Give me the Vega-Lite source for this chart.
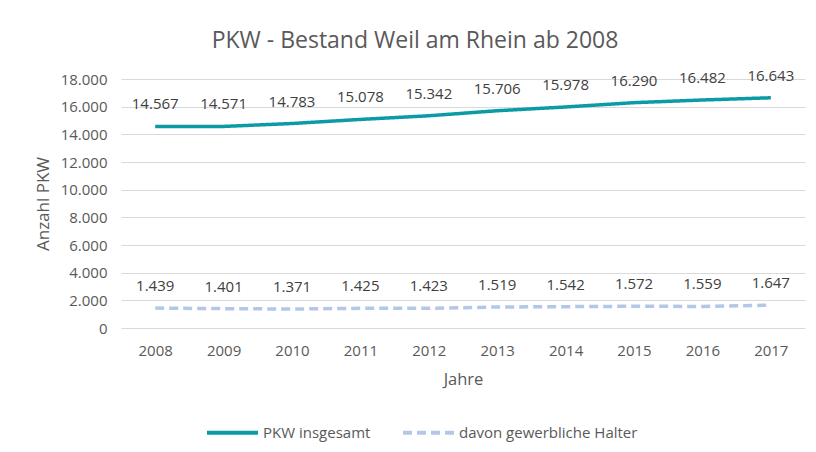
{
  "$schema": "https://vega.github.io/schema/vega-lite/v6.json",
  "autosize": {"type": "none"},
  "width": 684,
  "height": 249,
  "padding": {"left": 121, "top": 79, "right": 11, "bottom": 124},
  "background": "white",
  "config": {
    "locale": {"number": {"decimal": ",", "thousands": ".", "grouping": [3], "currency": ["", " €"]}},
    "font": "Open Sans",
    "view": {"stroke": null},
    "axis": {"labelColor": "#595959", "titleColor": "#595959", "labelFont": "Open Sans", "titleFont": "Open Sans", "titleFontWeight": "normal", "gridColor": "#D9D9D9", "domain": false, "ticks": false}
  },
  "title": {"text": "PKW - Bestand Weil am Rhein ab 2008", "fontSize": 23, "font": "Open Sans", "fontWeight": "normal", "color": "#595959", "anchor": "middle", "dx": -48, "offset": 16},
  "data": {"values": [
    {"Jahr": "2008", "Reihe": "PKW insgesamt", "Anzahl": 14567},
    {"Jahr": "2009", "Reihe": "PKW insgesamt", "Anzahl": 14571},
    {"Jahr": "2010", "Reihe": "PKW insgesamt", "Anzahl": 14783},
    {"Jahr": "2011", "Reihe": "PKW insgesamt", "Anzahl": 15078},
    {"Jahr": "2012", "Reihe": "PKW insgesamt", "Anzahl": 15342},
    {"Jahr": "2013", "Reihe": "PKW insgesamt", "Anzahl": 15706},
    {"Jahr": "2014", "Reihe": "PKW insgesamt", "Anzahl": 15978},
    {"Jahr": "2015", "Reihe": "PKW insgesamt", "Anzahl": 16290},
    {"Jahr": "2016", "Reihe": "PKW insgesamt", "Anzahl": 16482},
    {"Jahr": "2017", "Reihe": "PKW insgesamt", "Anzahl": 16643},
    {"Jahr": "2008", "Reihe": "davon gewerbliche Halter", "Anzahl": 1439},
    {"Jahr": "2009", "Reihe": "davon gewerbliche Halter", "Anzahl": 1401},
    {"Jahr": "2010", "Reihe": "davon gewerbliche Halter", "Anzahl": 1371},
    {"Jahr": "2011", "Reihe": "davon gewerbliche Halter", "Anzahl": 1425},
    {"Jahr": "2012", "Reihe": "davon gewerbliche Halter", "Anzahl": 1423},
    {"Jahr": "2013", "Reihe": "davon gewerbliche Halter", "Anzahl": 1519},
    {"Jahr": "2014", "Reihe": "davon gewerbliche Halter", "Anzahl": 1542},
    {"Jahr": "2015", "Reihe": "davon gewerbliche Halter", "Anzahl": 1572},
    {"Jahr": "2016", "Reihe": "davon gewerbliche Halter", "Anzahl": 1559},
    {"Jahr": "2017", "Reihe": "davon gewerbliche Halter", "Anzahl": 1647}
  ]},
  "encoding": {
    "x": {"field": "Jahr", "type": "ordinal", "scale": {"type": "point", "padding": 0.5},
      "axis": {"title": "Jahre", "labelAngle": 0, "labelFontSize": 15, "titleFontSize": 16.5, "labelPadding": 15, "titlePadding": 13, "grid": false}},
    "y": {"field": "Anzahl", "type": "quantitative", "scale": {"domain": [0, 18000]},
      "axis": {"title": "Anzahl PKW", "values": [0,2000,4000,6000,8000,10000,12000,14000,16000,18000], "format": ",d", "labelFontSize": 15, "titleFontSize": 17, "labelPadding": 14, "titlePadding": 8}}
  },
  "layer": [
    {
      "mark": {"type": "line", "strokeWidth": 3.5, "strokeCap": "butt"},
      "encoding": {
        "color": {"field": "Reihe", "type": "nominal",
          "scale": {"domain": ["PKW insgesamt", "davon gewerbliche Halter"], "range": ["#0A9BA6", "#B4C7E7"]},
          "legend": {"title": null, "orient": "none", "direction": "horizontal", "legendX": 84, "legendY": 326, "symbolType": "stroke", "symbolSize": 2600, "symbolStrokeWidth": 4, "labelFontSize": 15, "labelColor": "#595959", "labelFont": "Open Sans", "labelLimit": 400, "columnPadding": 24, "labelOffset": 3}},
        "strokeDash": {"field": "Reihe", "type": "nominal",
          "scale": {"domain": ["PKW insgesamt", "davon gewerbliche Halter"], "range": [[1, 0], [9, 5]]},
          "legend": null}
      }
    },
    {
      "mark": {"type": "text", "dy": -22, "fontSize": 15, "color": "#404040", "font": "Open Sans"},
      "encoding": {"text": {"field": "Anzahl", "type": "quantitative", "format": ",d"}}
    }
  ]
}
